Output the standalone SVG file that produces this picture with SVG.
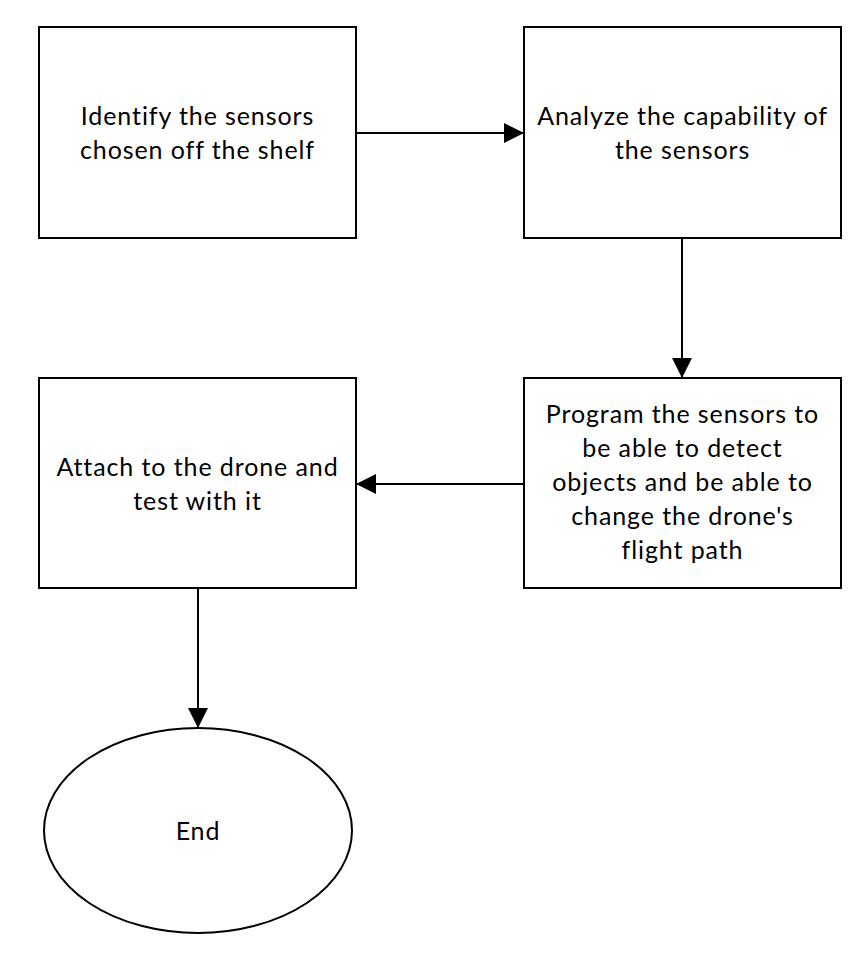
<svg xmlns="http://www.w3.org/2000/svg" width="868" height="956" viewBox="0 0 868 956">
<style>
.box{fill:#fff;stroke:#000;stroke-width:2}
.lbl{font-family:Lato,"Liberation Sans",sans-serif;font-size:25px;letter-spacing:0.9px;fill:#000;text-anchor:middle}
.con{stroke:#000;stroke-width:2;fill:none}
</style>
<defs>
<marker id="ah" markerWidth="20" markerHeight="20" refX="20" refY="10" orient="auto" markerUnits="userSpaceOnUse" viewBox="0 0 20 20">
<path d="M0,0 L20,10 L0,20 Z" fill="#000"/>
</marker>
</defs>
<rect width="868" height="956" fill="#fff"/>
<g id="connectors">
<line class="con" x1="356" y1="133" x2="524" y2="133" marker-end="url(#ah)"/>
<line class="con" x1="682" y1="238" x2="682" y2="378" marker-end="url(#ah)"/>
<line class="con" x1="524" y1="484" x2="356" y2="484" marker-end="url(#ah)"/>
<line class="con" x1="198" y1="588" x2="198" y2="728" marker-end="url(#ah)"/>
</g>
<g id="identify">
<rect class="box" x="39" y="27" width="317" height="211"/>
<text class="lbl" x="197.5" y="125">Identify the sensors</text>
<text class="lbl" x="197.5" y="158.5">chosen off the shelf</text>
</g>
<g id="analyze">
<rect class="box" x="524" y="27" width="317" height="211"/>
<text class="lbl" x="682.5" y="125">Analyze the capability of</text>
<text class="lbl" x="682.5" y="158.5">the sensors</text>
</g>
<g id="program">
<rect class="box" x="524" y="378" width="317" height="210"/>
<text class="lbl" x="682.5" y="423">Program the sensors to</text>
<text class="lbl" x="682.5" y="457">be able to detect</text>
<text class="lbl" x="682.5" y="491">objects and be able to</text>
<text class="lbl" x="682.5" y="525">change the drone's</text>
<text class="lbl" x="682.5" y="559">flight path</text>
</g>
<g id="attach">
<rect class="box" x="39" y="378" width="317" height="210"/>
<text class="lbl" x="197.5" y="476">Attach to the drone and</text>
<text class="lbl" x="197.5" y="509.5">test with it</text>
</g>
<g id="end">
<ellipse class="box" cx="198" cy="830.5" rx="154" ry="102.5"/>
<text class="lbl" x="198" y="840">End</text>
</g>
</svg>
